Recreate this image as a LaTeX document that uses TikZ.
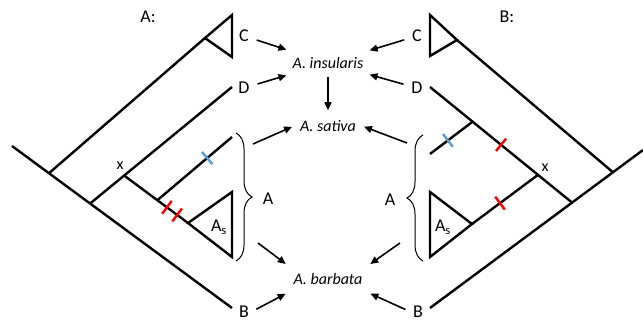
\documentclass[tikz,border=0pt]{standalone}
\usepackage{fontspec}
\setmainfont{Carlito}
\usetikzlibrary{arrows.meta, calc, decorations.pathreplacing}
\definecolor{tickblue}{RGB}{91,155,213}
\definecolor{tickred}{RGB}{255,0,0}

\begin{document}
\begin{tikzpicture}[
    x=1pt, y=-1pt,
    branch/.style={line width=2.4pt},
    clade/.style={line width=2.4pt, line join=miter},
    arrow/.style={-{Triangle[length=8pt, width=7pt]}, line width=1.6pt},
    lbl/.style={font=\fontsize{18}{20}\selectfont, inner sep=2pt},
    taxon/.style={font=\fontsize{16}{18}\selectfont\itshape, inner xsep=6pt, inner ysep=8pt},
    curly/.style={decorate, decoration={brace, amplitude=16pt}, line width=1pt},
    hatch/.style={line width=2.4pt}
]
\useasboundingbox (0,0) rectangle (643,323);

% taxa in the middle
\node[taxon] (ins) at (328,63) {A. insularis};
\node[taxon] (sat) at (328,126) {A. sativa};
\node[taxon] (bar) at (328,279) {A. barbata};
\draw[arrow, shorten >=2pt] (ins) -- (sat);

% ---- tree A (left) ----
\node[lbl] (titleA) at (148,17) {A:};
\coordinate (rootL) at (12,146);
\coordinate (tipBL) at (232,308);
\coordinate (nCL) at ($(rootL)!0.168!(tipBL)$);
\coordinate (nDL) at ($(rootL)!0.355!(tipBL)$);
\coordinate (tipCL) at (205,38);
\coordinate (tipDL) at (232,87);
\coordinate (xL) at ($(nDL)!0.24!(tipDL)$);
\coordinate (asL) at (188,223);
\coordinate (sL) at ($(xL)!0.52!(asL)$);
\coordinate (tipSL) at (232,137);

\draw[branch] (rootL) -- (tipBL);
\draw[branch] (nCL) -- (tipCL);
\draw[branch] (nDL) -- (tipDL);
\draw[branch] (xL) -- (asL);
\draw[branch] (sL) -- (tipSL);
\draw[clade] (tipCL) -- (232,15) -- (232,57) -- cycle;
\draw[clade] (asL) -- (232,192) -- (232,257) -- cycle;

\node[lbl] (CL) at (244,36) {C};
\node[lbl] (DL) at (244,88) {D};
\node[lbl] (BL) at (244,312) {B};
\node[font=\fontsize{16}{18}\selectfont] (xlabL) at (120,166) {x};
\node[lbl] (AsL) at (219,227) {A\textsubscript{s}};

\draw[curly] (236,133) -- (236,261);
\node[lbl] (AL) at (268,199) {A};
\coordinate (bLtop) at (253,144);
\coordinate (bLbot) at (258,243);

% ---- tree B (right) ----
\node[lbl] (titleB) at (507,17) {B:};
\coordinate (rootR) at (643,150);
\coordinate (tipBR) at (430,308);
\coordinate (nCR) at ($(rootR)!0.141!(tipBR)$);
\coordinate (nDR) at ($(rootR)!0.333!(tipBR)$);
\coordinate (tipCR) at (457,40);
\coordinate (tipDR) at (430,87);
\coordinate (xR) at ($(tipDR)!0.76!(nDR)$);
\coordinate (sR) at ($(tipDR)!0.30!(nDR)$);
\coordinate (tipSR) at (430,154);
\coordinate (asR) at (472,224);

\draw[branch] (rootR) -- (tipBR);
\draw[branch] (nCR) -- (tipCR);
\draw[branch] (nDR) -- (tipDR);
\draw[branch] (xR) -- (asR);
\draw[branch] (sR) -- (tipSR);
\draw[clade] (tipCR) -- (430,15) -- (430,56) -- cycle;
\draw[clade] (asR) -- (430,192) -- (430,257) -- cycle;

\node[lbl] (CR) at (417,36) {C};
\node[lbl] (DR) at (417,88) {D};
\node[lbl] (BR) at (418,312) {B};
\node[font=\fontsize{16}{18}\selectfont] (xlabR) at (545,168) {x};
\node[lbl] (AsR) at (443,227) {A\textsubscript{s}};

\draw[curly] (423,261) -- (423,135);
\node[lbl] (AR) at (390,200) {A};
\coordinate (bRtop) at (407,143);
\coordinate (bRbot) at (400,243);

% mutation ticks
\foreach \a/\b/\t/\c in {sL/tipSL/0.667/tickblue, xL/asL/0.67/tickred, xL/asL/0.83/tickred,
                         sR/tipSR/0.58/tickblue, tipDR/nDR/0.5/tickred, xR/asR/0.576/tickred} {
  \coordinate (m) at ($(\a)!\t!(\b)$);
  \draw[hatch, draw=\c] ($(m)!8pt!90:(\b)$) -- ($(m)!8pt!-90:(\b)$);
}

% arrows to the taxa
\draw[arrow, shorten <=6pt] (CL) -- (ins);
\draw[arrow, shorten <=6pt] (DL) -- (ins);
\draw[arrow, shorten >=2pt] (bLtop) -- (sat.west);
\draw[arrow, shorten >=2pt] (bLbot) -- (bar.north west);
\draw[arrow, shorten <=6pt, shorten >=2pt] (BL.east) -- (bar.south west);

\draw[arrow, shorten <=6pt] (CR) -- (ins);
\draw[arrow, shorten <=6pt] (DR) -- (ins);
\draw[arrow, shorten >=2pt] (bRtop) -- (sat.east);
\draw[arrow, shorten >=2pt] (bRbot) -- (bar.north east);
\draw[arrow, shorten <=6pt, shorten >=2pt] (BR.west) -- (bar.south east);

\end{tikzpicture}
\end{document}
